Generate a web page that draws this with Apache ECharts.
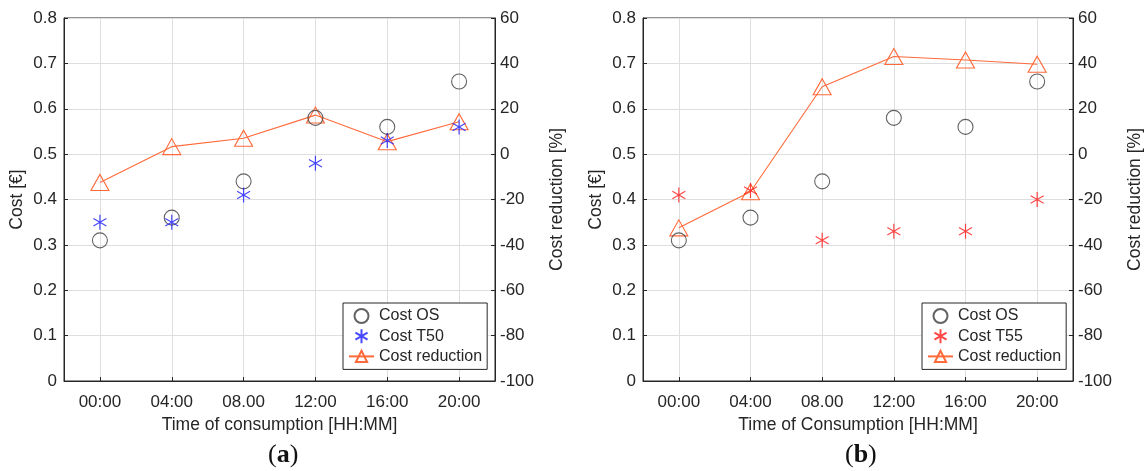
<!DOCTYPE html>
<html>
<head>
<meta charset="utf-8">
<script src="https://cdn.jsdelivr.net/npm/echarts@6/dist/echarts.min.js"></script>
<style>
html,body{margin:0;padding:0;background:#fff;}
#chart{width:1146px;height:471px;}
</style>
</head>
<body>
<div id="chart"></div>
<script>
// ---- data ----
const categories = ['00:00', '04:00', '08.00', '12:00', '16:00', '20:00'];
const costOS_a = [0.31, 0.36, 0.44, 0.58, 0.56, 0.66];
const costT50 = [0.35, 0.35, 0.41, 0.48, 0.53, 0.56];
const reduction_a = [-12.5, 3.3, 7, 17.2, 5.5, 14.3];
const costOS_b = [0.31, 0.36, 0.44, 0.58, 0.56, 0.66];
const costT55 = [0.41, 0.42, 0.31, 0.33, 0.33, 0.40];
const reduction_b = [-32.5, -16.6, 29.7, 43, 41.5, 39.6];
const leftTicks = {min: 0, max: 0.8, interval: 0.1};
const rightTicks = {min: -100, max: 60, interval: 20};

const FONT = '"Liberation Sans", Arial, sans-serif';
const SERIF = '"Liberation Serif", "DejaVu Serif", serif';
const TXT = '#262626';
const GRIDC = '#dedede';
const ORANGE = '#ff6a3a';
const ASTER = 'path://M0,-1L0,1M-0.866,-0.5L0.866,0.5M-0.866,0.5L0.866,-0.5';

const grids = [
  {left: 64, top: 18, width: 431, height: 363},
  {left: 643, top: 18, width: 430, height: 363}
];

function xAxisDef(idx, name) {
  return {
    type: 'category', gridIndex: idx, data: categories, boundaryGap: true,
    name: name, nameLocation: 'middle', nameGap: 34,
    nameTextStyle: {fontFamily: FONT, fontSize: 17.5, color: TXT},
    axisLine: {lineStyle: {color: TXT, width: 1}},
    axisTick: {show: true, inside: true, alignWithLabel: true, length: 4, lineStyle: {color: TXT}},
    axisLabel: {fontFamily: FONT, fontSize: 17, color: TXT, margin: 13},
    splitLine: {show: true, alignWithLabel: true, lineStyle: {color: GRIDC, width: 1}}
  };
}
function yLeft(idx) {
  return {
    type: 'value', gridIndex: idx, position: 'left',
    min: leftTicks.min, max: leftTicks.max, interval: leftTicks.interval,
    name: 'Cost [€]', nameLocation: 'middle', nameGap: 38,
    nameTextStyle: {fontFamily: FONT, fontSize: 17.5, color: TXT},
    axisLine: {show: true, lineStyle: {color: TXT}},
    axisTick: {show: true, inside: true, length: 4, lineStyle: {color: TXT}},
    axisLabel: {fontFamily: FONT, fontSize: 17, color: TXT, margin: 7},
    splitLine: {show: true, lineStyle: {color: GRIDC}}
  };
}
function yRight(idx) {
  return {
    type: 'value', gridIndex: idx, position: 'right',
    min: rightTicks.min, max: rightTicks.max, interval: rightTicks.interval,
    name: 'Cost reduction [%]', nameLocation: 'middle', nameGap: 53, nameRotate: 90,
    nameTextStyle: {fontFamily: FONT, fontSize: 17.5, color: TXT},
    axisLine: {show: true, lineStyle: {color: TXT}},
    axisTick: {show: true, inside: true, length: 4, lineStyle: {color: TXT}},
    axisLabel: {fontFamily: FONT, fontSize: 17, color: TXT, margin: 5},
    splitLine: {show: false}
  };
}

function circleSeries(name, data, gi) {
  return {
    name: name, type: 'scatter', xAxisIndex: gi, yAxisIndex: gi * 2, data: data,
    symbol: 'circle', symbolSize: 15, z: 3,
    itemStyle: {color: 'rgba(0,0,0,0)', borderColor: '#3c3c3c', borderWidth: 1.1}
  };
}
function starSeries(name, data, gi, color) {
  return {
    name: name, type: 'scatter', xAxisIndex: gi, yAxisIndex: gi * 2, data: data,
    symbol: ASTER, symbolSize: 15, symbolKeepAspect: true, z: 4,
    itemStyle: {color: 'rgba(0,0,0,0)', borderColor: color, borderWidth: 1.2}
  };
}
function redSeries(data, gi) {
  return {
    name: 'Cost reduction', type: 'line', xAxisIndex: gi, yAxisIndex: gi * 2 + 1, data: data,
    symbol: 'triangle', symbolSize: [18, 16], z: 2,
    lineStyle: {color: ORANGE, width: 1.1},
    itemStyle: {color: 'rgba(0,0,0,0)', borderColor: ORANGE, borderWidth: 1.1}
  };
}

function legendDef(left, items) {
  return {
    orient: 'vertical', left: left, top: 303, data: items,
    itemWidth: 25, itemHeight: 14, itemGap: 4.2, padding: [5, 5, 5, 5],
    borderColor: '#262626', borderWidth: 1, backgroundColor: '#fff',
    textStyle: {fontFamily: FONT, fontSize: 16, color: TXT},
    selectedMode: false
  };
}

function subLabel(left, letter) {
  return {type: 'text', left: left, top: 442, style: {text: '{p|(}{b|' + letter + '}{p|)}', rich: {
    p: {fontFamily: SERIF, fontSize: 26, fill: '#111'},
    b: {fontFamily: SERIF, fontSize: 26, fontWeight: 'bold', fill: '#111'}}}};
}

const option = {
  animation: false,
  backgroundColor: '#fff',
  grid: grids.map(g => Object.assign({show: true, borderColor: TXT, borderWidth: 1, backgroundColor: 'transparent'}, g)),
  xAxis: [xAxisDef(0, 'Time of consumption [HH:MM]'), xAxisDef(1, 'Time of Consumption [HH:MM]')],
  yAxis: [yLeft(0), yRight(0), yLeft(1), yRight(1)],
  legend: [
    legendDef(343, ['Cost OS', 'Cost T50', 'Cost reduction']),
    legendDef(922, ['Cost OS', 'Cost T55', 'Cost reduction'])
  ],
  series: [
    circleSeries('Cost OS', costOS_a, 0),
    starSeries('Cost T50', costT50, 0, '#1a1aff'),
    redSeries(reduction_a, 0),
    circleSeries('Cost OS', costOS_b, 1),
    starSeries('Cost T55', costT55, 1, '#ff1a1a'),
    redSeries(reduction_b, 1)
  ],
  graphic: [subLabel(268, 'a'), subLabel(845, 'b')]
};

const chart = echarts.init(document.getElementById('chart'), null, {renderer: 'canvas'});
chart.setOption(option);
</script>
</body>
</html>
